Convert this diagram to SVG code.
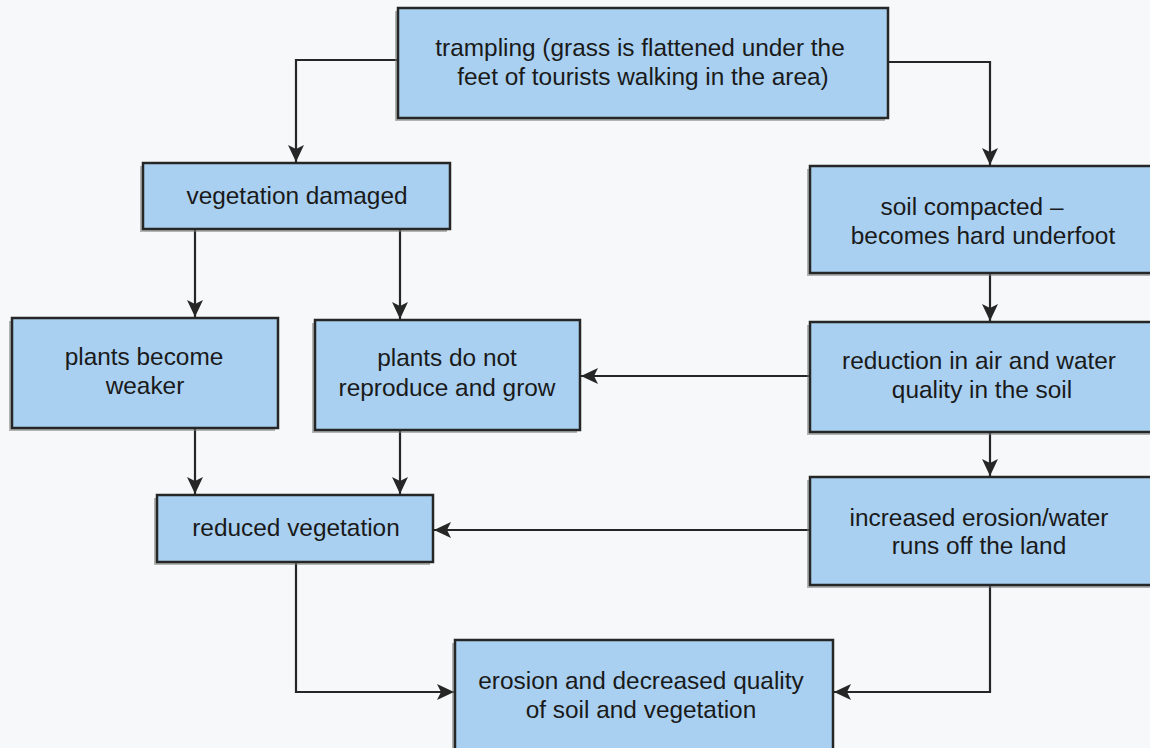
<svg xmlns="http://www.w3.org/2000/svg" width="1150" height="748" viewBox="0 0 1150 748">
  <defs>
    <style>
      .box { fill: #a9d0f1; stroke: #262626; stroke-width: 2.5; }
      .shadow { fill: #7a7a7a; opacity: 0.55; }
      .lbl { font-family: "Liberation Sans", Arial, sans-serif; font-size: 24.4px; fill: #1a1a1a; text-anchor: middle; }
      .conn { fill: none; stroke: #262626; stroke-width: 2.2; }
    </style>
    <marker id="arr" markerUnits="userSpaceOnUse" markerWidth="18" markerHeight="16" refX="17" refY="8" orient="auto">
      <path d="M0,0 L17,8 L0,16 L4,8 Z" fill="#262626"/>
    </marker>
  </defs>
  <rect x="0" y="0" width="1150" height="748" fill="#f7f8f9"/>

  <g id="connectors">
    <path class="conn" d="M398,60 H296 V162" marker-end="url(#arr)"/>
    <path class="conn" d="M888,62 H990 V165" marker-end="url(#arr)"/>
    <path class="conn" d="M195,229 V317" marker-end="url(#arr)"/>
    <path class="conn" d="M400,229 V319" marker-end="url(#arr)"/>
    <path class="conn" d="M990,273 V321" marker-end="url(#arr)"/>
    <path class="conn" d="M810,376 H581" marker-end="url(#arr)"/>
    <path class="conn" d="M990,432 V476" marker-end="url(#arr)"/>
    <path class="conn" d="M195,428 V494" marker-end="url(#arr)"/>
    <path class="conn" d="M400,430 V494" marker-end="url(#arr)"/>
    <path class="conn" d="M810,530 H434" marker-end="url(#arr)"/>
    <path class="conn" d="M296,562 V692 H454" marker-end="url(#arr)"/>
    <path class="conn" d="M990,585 V692 H834" marker-end="url(#arr)"/>
  </g>

  <g id="trampling">
    <rect class="shadow" x="395" y="11" width="490" height="110"/>
    <rect class="box" x="398" y="8" width="490" height="110"/>
    <text class="lbl" x="640" y="56">trampling (grass is flattened under the</text>
    <text class="lbl" x="643" y="85">feet of tourists walking in the area)</text>
  </g>

  <g id="vegetation-damaged">
    <rect class="shadow" x="140" y="166" width="307" height="66"/>
    <rect class="box" x="143" y="163" width="307" height="66"/>
    <text class="lbl" x="297" y="204">vegetation damaged</text>
  </g>

  <g id="soil-compacted">
    <rect class="shadow" x="807" y="169" width="345" height="107"/>
    <rect class="box" x="810" y="166" width="345" height="107"/>
    <text class="lbl" x="972" y="215">soil compacted –</text>
    <text class="lbl" x="983" y="244">becomes hard underfoot</text>
  </g>

  <g id="plants-weaker">
    <rect class="shadow" x="9" y="321" width="266" height="110"/>
    <rect class="box" x="12" y="318" width="266" height="110"/>
    <text class="lbl" x="144" y="365">plants become</text>
    <text class="lbl" x="145" y="394">weaker</text>
  </g>

  <g id="plants-not-reproduce">
    <rect class="shadow" x="312" y="323" width="265" height="110"/>
    <rect class="box" x="315" y="320" width="265" height="110"/>
    <text class="lbl" x="447" y="366">plants do not</text>
    <text class="lbl" x="447" y="396">reproduce and grow</text>
  </g>

  <g id="reduction-air-water">
    <rect class="shadow" x="807" y="325" width="345" height="110"/>
    <rect class="box" x="810" y="322" width="345" height="110"/>
    <text class="lbl" x="979" y="369">reduction in air and water</text>
    <text class="lbl" x="982" y="398">quality in the soil</text>
  </g>

  <g id="reduced-vegetation">
    <rect class="shadow" x="154" y="498" width="276" height="67"/>
    <rect class="box" x="157" y="495" width="276" height="67"/>
    <text class="lbl" x="296" y="536">reduced vegetation</text>
  </g>

  <g id="increased-erosion">
    <rect class="shadow" x="807" y="480" width="345" height="108"/>
    <rect class="box" x="810" y="477" width="345" height="108"/>
    <text class="lbl" x="979" y="526">increased erosion/water</text>
    <text class="lbl" x="979" y="554">runs off the land</text>
  </g>

  <g id="erosion-decreased-quality">
    <rect class="shadow" x="452" y="643" width="378" height="115"/>
    <rect class="box" x="455" y="640" width="378" height="115"/>
    <text class="lbl" x="641" y="689">erosion and decreased quality</text>
    <text class="lbl" x="641" y="718">of soil and vegetation</text>
  </g>
</svg>
